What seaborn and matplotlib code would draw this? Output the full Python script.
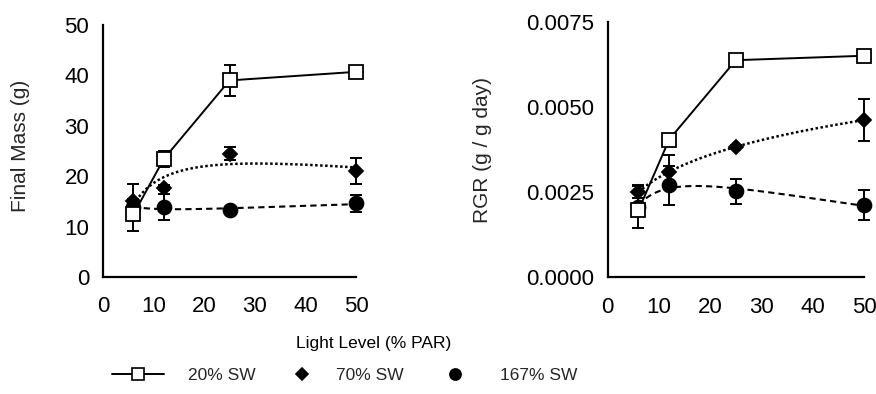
import numpy as np
import pandas as pd
import matplotlib
matplotlib.use('Agg')
import matplotlib.pyplot as plt
from matplotlib.lines import Line2D
from matplotlib.ticker import FormatStrFormatter
import seaborn as sns

sns.set_theme(style="white")
plt.rcParams['font.family'] = ['Liberation Sans', 'DejaVu Sans']

# ── Data ─────────────────────────────────────────────────────────────────────
light = [6, 12, 25, 50]
treatments = ['20% SW', '70% SW', '167% SW']

mass_20 = [12.4, 23.4, 39.0, 40.7]
mass_20_err = [0.5, 1.5, 3.0, 0.5]
mass_70 = [15.0, 17.7, 24.5, 21.0]
mass_70_err = [0.5, 0.5, 1.2, 2.6]
mass_167 = [13.8, 13.9, 13.2, 14.6]
mass_167_err = [4.6, 2.5, 0.5, 1.7]

rgr_20 = [0.00197, 0.00405, 0.00638, 0.00651]
rgr_20_err = [0.00005, 0.00005, 0.00005, 0.00005]
rgr_70 = [0.00251, 0.00310, 0.00384, 0.00462]
rgr_70_err = [0.00017, 0.00050, 0.00005, 0.00062]
rgr_167 = [0.00208, 0.00270, 0.00253, 0.00213]
rgr_167_err = [0.00062, 0.00058, 0.00036, 0.00044]

mass = pd.DataFrame({'light': light * 3,
                     'treatment': np.repeat(treatments, 4),
                     'value': mass_20 + mass_70 + mass_167,
                     'err': mass_20_err + mass_70_err + mass_167_err})
rgr = pd.DataFrame({'light': light * 3,
                    'treatment': np.repeat(treatments, 4),
                    'value': rgr_20 + rgr_70 + rgr_167,
                    'err': rgr_20_err + rgr_70_err + rgr_167_err})

STYLE = {
    '20% SW':  dict(marker='s', face='white', size=10, ls='-', lw=1.4, z=6),
    '70% SW':  dict(marker='D', face='black', size=7.5, ls=(0, (1, 1)), lw=1.8, z=5),
    '167% SW': dict(marker='o', face='black', size=10, ls=(0, (3, 2)), lw=1.5, z=4),
}


def draw(ax, df, ylim, yticks, ylabel, fmt):
    for t in treatments:
        d = df[df['treatment'] == t]
        st = STYLE[t]
        ax.errorbar(d['light'], d['value'], yerr=d['err'], fmt='none',
                    ecolor='black', elinewidth=1.4, capsize=4.5, capthick=1.4,
                    zorder=st['z'] - 0.5, clip_on=False)
        if t == '20% SW':
            sns.lineplot(data=d, x='light', y='value', ax=ax, color='black',
                         lw=st['lw'], zorder=st['z'] - 0.2)
        else:
            # quadratic fit in log(light)
            coef = np.polyfit(np.log(d['light']), d['value'], 2)
            grid = np.linspace(min(light), max(light), 200)
            fit = pd.DataFrame({'light': grid,
                                'value': np.polyval(coef, np.log(grid))})
            sns.lineplot(data=fit, x='light', y='value', ax=ax, color='black',
                         lw=st['lw'], linestyle=st['ls'], zorder=st['z'] - 0.2)
        ax.plot(d['light'], d['value'], linestyle='none', marker=st['marker'],
                markersize=st['size'], markerfacecolor=st['face'],
                markeredgecolor='black', markeredgewidth=1.3,
                zorder=st['z'], clip_on=False)

    ax.set_xlim(0, 50)
    ax.set_ylim(*ylim)
    ax.set_xticks([0, 10, 20, 30, 40, 50])
    ax.set_yticks(yticks)
    ax.yaxis.set_major_formatter(FormatStrFormatter(fmt))
    ax.set_xlabel('')
    ax.set_ylabel(ylabel, fontsize=15)
    for s in ['top', 'right']:
        ax.spines[s].set_visible(False)
    for s in ['left', 'bottom']:
        ax.spines[s].set_color('black')
        ax.spines[s].set_linewidth(1.6)
    ax.tick_params(direction='in', length=7, width=1.5, color='black',
                   labelsize=16, labelcolor='black')
    ax.tick_params(axis='y', pad=10)
    ax.tick_params(axis='x', pad=14)


fig = plt.figure(figsize=(8.76, 3.94), dpi=100)
ax1 = fig.add_axes([0.1176, 0.297, 0.2888, 0.6396])
ax2 = fig.add_axes([0.6937, 0.296, 0.2926, 0.648])

draw(ax1, mass, (0, 50), [0, 10, 20, 30, 40, 50], 'Final Mass (g)', '%d')
draw(ax2, rgr, (0, 0.0075), [0, 0.0025, 0.005, 0.0075], 'RGR (g / g day)', '%.4f')
ax1.yaxis.set_label_coords(-0.289, 0.52)
ax2.yaxis.set_label_coords(-0.451, 0.5)

fig.text(0.426, 0.129, 'Light Level (% PAR)', ha='center', va='center',
         fontsize=12.5, color='black')

# legend: one entry per box so spacing can follow the original
leg_pos = [(0.128, 3.0, 1.35), (0.335, 1.0, 1.45), (0.509, 1.0, 2.1)]
for t, (x0, hl, pad) in zip(treatments, leg_pos):
    st = STYLE[t]
    h = Line2D([], [], color='black', lw=st['lw'] if t == '20% SW' else 0,
               marker=st['marker'], markersize=st['size'] * 0.8,
               markerfacecolor=st['face'], markeredgecolor='black',
               markeredgewidth=1.2)
    fig.legend(handles=[h], labels=[t], loc='center left',
               bbox_to_anchor=(x0, 0.048), frameon=False, fontsize=12.5,
               handlelength=hl, handletextpad=pad, borderpad=0, borderaxespad=0)

fig.savefig('out.png', dpi=100, facecolor='white')
